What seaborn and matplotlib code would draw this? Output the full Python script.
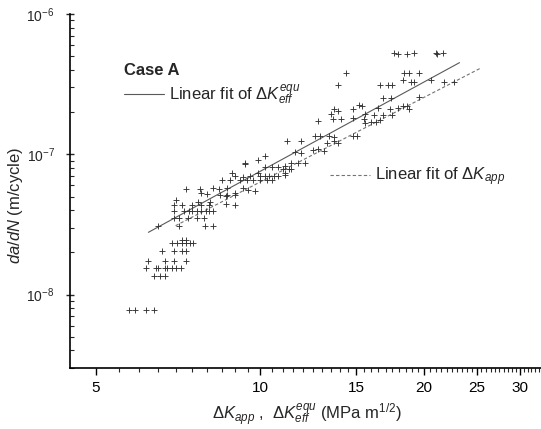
import numpy as np
import pandas as pd
import matplotlib
matplotlib.use('Agg')
import matplotlib.pyplot as plt
from matplotlib.lines import Line2D
from matplotlib.ticker import FixedLocator, NullFormatter, LogLocator, FuncFormatter
import seaborn as sns

# =========================
# 1. DATA
# =========================
# stress intensity range (MPa m^1/2), mixed app / eff points
dk = [
    17.6, 17.9, 18.6, 19.2, 21.0, 21.1, 21.7,
    14.4, 18.4, 18.8, 19.6,
    18.3, 18.9, 19.2, 20.6, 21.8, 22.7,
    13.9, 16.6, 17.2, 17.5,
    16.8, 17.4, 19.6,
    15.2, 15.4, 13.7, 14.8, 16.5, 17.3, 17.9, 18.3, 18.6, 18.8,
    13.5, 13.9, 15.6, 16.2, 16.8, 17.5,
    13.6, 14.1, 14.8, 15.5, 12.8, 15.6, 16.0, 16.3, 16.6,
    12.6, 12.9, 13.4, 13.7, 14.8, 15.1,
    13.3, 13.7, 13.9, 11.9, 11.2,
    12.5, 12.8, 13.1, 11.6, 11.9,
    10.2, 9.9,
    11.4, 11.75, 12.1, 9.4, 9.4,
    10.2, 10.5, 10.8, 11.1, 11.0, 11.3, 11.4,
    8.9, 9.9, 11.1, 11.1,
    9.0, 9.3, 9.6, 10.0, 10.2, 10.4, 10.6, 10.8,
    8.5, 8.8, 9.2, 9.45, 9.7, 10.0, 10.3, 10.5,
    7.3, 7.77, 8.2, 8.4, 8.7, 9.3, 9.5, 9.8,
    8.98, 8.7, 7.8, 8.0, 8.45, 8.65, 9.0,
    8.65, 9.0, 7.7, 8.1, 7.0, 6.96, 7.2, 7.5, 7.8, 8.05,
    6.96, 7.25, 7.4, 7.5, 7.65, 7.8, 7.95, 8.05, 8.2,
    6.96, 7.1, 7.38, 7.65, 7.9,
    6.5, 7.1, 7.93, 8.2,
    7.2, 7.3,
    6.9, 7.05, 7.2, 7.3, 7.45, 7.55,
    6.6, 6.96, 7.2, 7.3,
    6.24, 6.7, 6.96, 7.3,
    6.19, 6.45, 6.5, 6.7, 6.76, 6.9, 7.0, 7.17,
    6.4, 6.55, 6.7,
    5.74, 5.89, 6.18, 6.40,
]

# crack growth rate (m/cycle)
dadn = [
    5.3e-7, 5.15e-7, 5.15e-7, 5.3e-7, 5.3e-7, 5.15e-7, 5.3e-7,
    3.8e-7, 3.8e-7, 3.8e-7, 3.8e-7,
    3.4e-7, 3.3e-7, 3.3e-7, 3.4e-7, 3.25e-7, 3.3e-7,
    3.1e-7, 3.1e-7, 3.1e-7, 3.1e-7,
    2.5e-7, 2.5e-7, 2.55e-7,
    2.25e-7, 2.2e-7, 2.1e-7, 2.1e-7, 2.15e-7, 2.1e-7, 2.15e-7, 2.2e-7, 2.2e-7, 2.1e-7,
    1.95e-7, 2.05e-7, 1.95e-7, 1.9e-7, 1.9e-7, 1.9e-7,
    1.78e-7, 1.78e-7, 1.8e-7, 1.78e-7, 1.72e-7, 1.68e-7, 1.7e-7, 1.7e-7, 1.75e-7,
    1.35e-7, 1.35e-7, 1.35e-7, 1.32e-7, 1.35e-7, 1.35e-7,
    1.21e-7, 1.24e-7, 1.21e-7, 1.25e-7, 1.25e-7,
    1.08e-7, 1.1e-7, 1.06e-7, 1.04e-7, 1.03e-7,
    9.7e-8, 9.1e-8,
    8.7e-8, 8.7e-8, 8.7e-8, 8.7e-8, 8.5e-8,
    8.1e-8, 8.1e-8, 8.1e-8, 8.3e-8, 7.9e-8, 7.9e-8, 7.9e-8,
    7.4e-8, 7.4e-8, 7.4e-8, 7.1e-8,
    7.0e-8, 6.9e-8, 7.0e-8, 7.0e-8, 7.0e-8, 7.0e-8, 7.0e-8, 7.0e-8,
    6.6e-8, 6.6e-8, 6.6e-8, 6.6e-8, 6.6e-8, 6.6e-8, 6.6e-8, 6.6e-8,
    5.7e-8, 5.7e-8, 5.75e-8, 5.7e-8, 5.75e-8, 5.75e-8, 5.6e-8, 5.5e-8,
    5.3e-8, 5.15e-8, 5.3e-8, 5.2e-8, 5.15e-8, 5.05e-8, 5.15e-8,
    4.4e-8, 4.35e-8, 4.6e-8, 4.6e-8, 4.7e-8, 4.37e-8, 4.37e-8, 4.37e-8, 4.37e-8, 4.37e-8,
    3.92e-8, 3.92e-8, 3.92e-8, 3.92e-8, 3.92e-8, 3.92e-8, 3.92e-8, 3.92e-8, 3.92e-8,
    3.5e-8, 3.5e-8, 3.5e-8, 3.5e-8, 3.5e-8,
    3.06e-8, 3.06e-8, 3.06e-8, 3.06e-8,
    2.45e-8, 2.45e-8,
    2.33e-8, 2.33e-8, 2.33e-8, 2.33e-8, 2.33e-8, 2.33e-8,
    2.06e-8, 2.06e-8, 2.06e-8, 2.06e-8,
    1.74e-8, 1.74e-8, 1.74e-8, 1.74e-8,
    1.56e-8, 1.56e-8, 1.56e-8, 1.56e-8, 1.56e-8, 1.56e-8, 1.56e-8, 1.56e-8,
    1.35e-8, 1.35e-8, 1.35e-8,
    7.77e-9, 7.77e-9, 7.77e-9, 7.77e-9,
]

# linear fits (end points in log-log space)
fit_eff_x = [6.24, 23.24]
fit_eff_y = [2.78e-8, 4.50e-7]
fit_app_x = [7.0, 25.37]
fit_app_y = [3.1e-8, 4.10e-7]

x_major = [5, 10, 15, 20, 25, 30]
y_major = [1e-8, 1e-7, 1e-6]

df = pd.DataFrame({'dK': dk, 'dadN': dadn})

# =========================
# 2. STYLE
# =========================
sns.set_theme(style='ticks')
plt.rcParams['font.family'] = ['Liberation Sans', 'DejaVu Sans']
plt.rcParams['mathtext.fontset'] = 'custom'
plt.rcParams['mathtext.rm'] = 'Liberation Sans'
plt.rcParams['mathtext.it'] = 'Liberation Sans:italic'
plt.rcParams['mathtext.bf'] = 'Liberation Sans:bold'

fig = plt.figure(figsize=(5.41, 4.29), dpi=100)
ax = fig.add_axes([70 / 541, 61 / 429, 471 / 541, 354 / 429])

# =========================
# 3. PLOT
# =========================
sns.scatterplot(data=df, x='dK', y='dadN', marker='+', color='0.2',
                s=22, linewidth=0.65, ax=ax, legend=False, zorder=3)

sns.lineplot(x=fit_eff_x, y=fit_eff_y, color='0.35', linewidth=0.8, ax=ax)
sns.lineplot(x=fit_app_x, y=fit_app_y, color='0.45', linewidth=0.8,
             linestyle=(0, (3, 2)), ax=ax)

ax.set_xscale('log')
ax.set_yscale('log')
ax.set_xlim(4.48, 32.8)
ax.set_ylim(3.0e-9, 1e-6)

# x ticks
ax.xaxis.set_major_locator(FixedLocator(x_major))
ax.xaxis.set_major_formatter(FuncFormatter(lambda v, p: f'{v:g}'))
minor = [v for v in np.arange(5.5, 33, 0.5) if v not in x_major]
ax.xaxis.set_minor_locator(FixedLocator(minor))
ax.xaxis.set_minor_formatter(NullFormatter())
ax.tick_params(axis='x', which='major', direction='out', length=5, width=1,
               labelsize=11, pad=4, colors='black')
ax.tick_params(axis='x', which='minor', direction='out', length=3, width=0.8)

# y ticks
ax.yaxis.set_major_locator(FixedLocator(y_major))
ax.yaxis.set_minor_locator(LogLocator(base=10, subs=np.arange(2, 10)))
ax.yaxis.set_minor_formatter(NullFormatter())
ax.tick_params(axis='y', which='major', direction='inout', length=6, width=1,
               labelsize=10, pad=8)
ax.tick_params(axis='y', which='minor', direction='in', length=3, width=0.8)

for side in ['top', 'right']:
    ax.spines[side].set_visible(False)
for side in ['left', 'bottom']:
    ax.spines[side].set_color('black')
    ax.spines[side].set_linewidth(1.2)

ax.set_xlabel(r'$\Delta K_{app}$ ,  $\Delta K_{eff}^{equ}$ (MPa m$^{1/2}$)', fontsize=12)
ax.set_ylabel(r'$da/dN$ (m/cycle)', fontsize=12)
ax.yaxis.set_label_coords(-0.096, 0.46)
ax.xaxis.set_label_coords(0.503, -0.095)

# =========================
# 4. ANNOTATIONS / LEGENDS
# =========================
ax.text(0.115, 0.839, 'Case A', transform=ax.transAxes, fontsize=12,
        fontweight='bold', va='center', ha='left')

h_eff = Line2D([], [], color='0.35', linewidth=0.8)
h_app = Line2D([], [], color='0.45', linewidth=0.8, linestyle=(0, (3, 2)))

leg1 = ax.legend([h_eff], [r'Linear fit of $\Delta K_{eff}^{equ}$'],
                 loc='center left', bbox_to_anchor=(0.115, 0.771),
                 frameon=False, borderpad=0, borderaxespad=0,
                 handlelength=2.4, handletextpad=0.3, fontsize=12)
ax.add_artist(leg1)
ax.legend([h_app], [r'Linear fit of $\Delta K_{app}$'],
          loc='center left', bbox_to_anchor=(0.552, 0.540),
          frameon=False, borderpad=0, borderaxespad=0,
          handlelength=2.4, handletextpad=0.3, fontsize=12)

fig.savefig('out.png', dpi=100)
print('saved out.png')
